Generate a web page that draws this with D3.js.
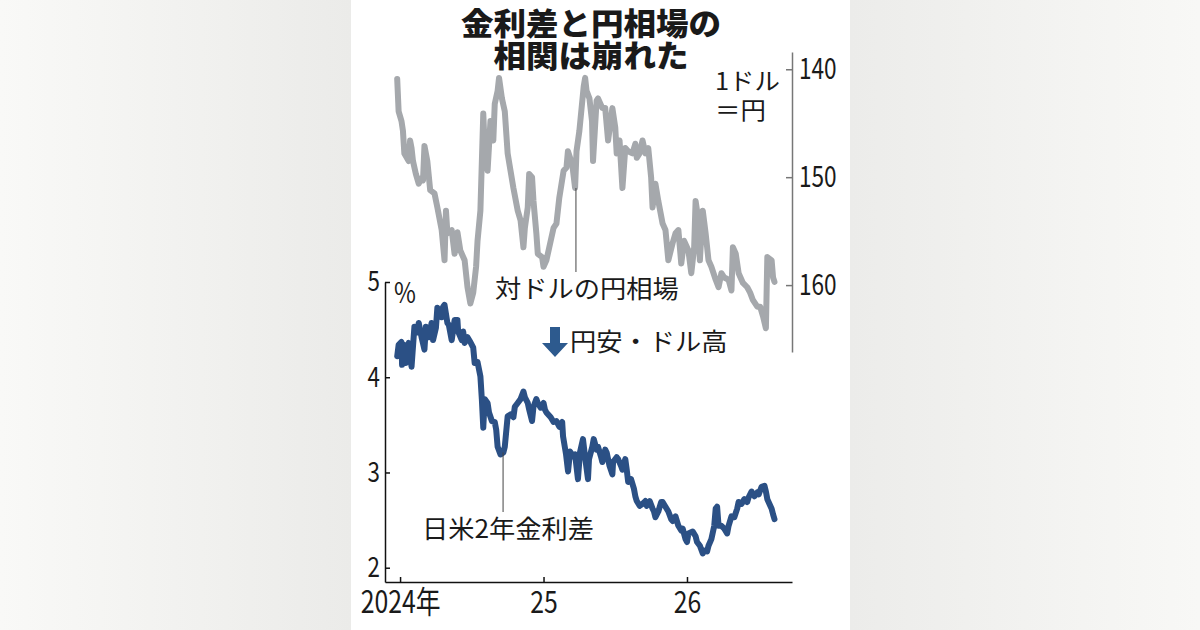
<!DOCTYPE html>
<html>
  <head>
    <meta charset="utf-8">
    <title>金利差と円相場</title>
    <script src="https://cdn.jsdelivr.net/npm/d3@7"></script>
    <style>
      body { margin: 0; }
      text { font-family: "Noto Sans CJK JP", "Noto Sans", sans-serif; fill: #1a1a1a; }
    </style>
  </head>
  <body>
    <svg width="1200" height="630" id="mainsvg"></svg>
    <script>
      // 対ドルの円相場 (1ドル=円)  [年, 値]
      const usdJpy = [
        [2023.98,140.9],[2023.99,143.9],[2024.01,144.8],[2024.02,145.7],[2024.03,147.8],[2024.06,148.5],
        [2024.07,146.6],[2024.08,147.3],[2024.09,148.5],[2024.11,149.7],[2024.13,150.6],[2024.15,150.1],
        [2024.16,150.3],[2024.17,147.1],[2024.19,148.5],[2024.21,151.2],[2024.24,151.5],[2024.26,152.8],
        [2024.29,154.9],[2024.31,157.7],[2024.32,153.1],[2024.33,155.2],[2024.36,154.9],[2024.38,157.1],
        [2024.40,155.1],[2024.42,156.8],[2024.44,157.4],[2024.45,157.7],[2024.47,160.2],[2024.49,161.7],
        [2024.51,160.7],[2024.53,158.3],[2024.54,155.9],[2024.56,153.1],[2024.58,144.1],[2024.59,147.3],
        [2024.61,149.4],[2024.63,144.8],[2024.65,146.6],[2024.66,143.2],[2024.68,142.0],[2024.69,140.8],
        [2024.71,142.7],[2024.73,143.9],[2024.75,147.8],[2024.77,149.4],[2024.79,151.0],[2024.82,153.1],
        [2024.84,154.0],[2024.86,156.5],[2024.87,154.7],[2024.89,152.8],[2024.90,149.7],[2024.92,150.0],
        [2024.93,152.2],[2024.95,155.2],[2024.96,157.1],[2024.99,157.4],[2025.00,158.3],[2025.02,157.7],
        [2025.04,156.5],[2025.07,154.7],[2025.09,154.3],[2025.11,151.9],[2025.14,149.4],[2025.16,149.1],
        [2025.17,147.6],[2025.20,148.8],[2025.22,151.0],[2025.23,147.6],[2025.25,145.7],[2025.28,141.6],
        [2025.29,140.8],[2025.30,142.0],[2025.32,142.7],[2025.338,144.8],[2025.345,148.5],[2025.37,142.9],
        [2025.38,142.7],[2025.41,143.6],[2025.43,143.6],[2025.45,146.6],[2025.48,143.6],[2025.50,145.4],
        [2025.51,147.8],[2025.53,146.6],[2025.55,151.0],[2025.57,147.3],[2025.59,147.6],[2025.62,147.8],
        [2025.64,146.9],[2025.65,148.2],[2025.67,147.8],[2025.69,146.6],[2025.71,147.8],[2025.73,147.3],
        [2025.75,150.0],[2025.76,152.8],[2025.78,150.6],[2025.80,152.2],[2025.83,154.3],[2025.85,154.9],
        [2025.87,157.7],[2025.90,156.1],[2025.92,155.2],[2025.94,154.9],[2025.96,158.0],[2025.98,155.9],
        [2026.01,156.8],[2026.03,158.9],[2026.05,156.5],[2026.06,152.2],[2026.07,153.1],[2026.09,157.7],
        [2026.11,153.1],[2026.13,155.2],[2026.15,157.7],[2026.17,158.3],[2026.20,159.5],[2026.22,160.2],
        [2026.24,158.9],[2026.26,159.3],[2026.29,159.5],[2026.31,160.5],[2026.32,156.5],[2026.34,157.1],
        [2026.36,158.9],[2026.39,159.8],[2026.42,160.2],[2026.44,160.7],[2026.46,161.4],[2026.49,162.0],
        [2026.51,162.0],[2026.53,162.9],[2026.55,164.0],[2026.56,157.4],[2026.59,157.7],[2026.60,159.3],
        [2026.61,159.7]
      ];

      // 日米2年金利差 (%)  [年, 値]
      const spread = [
        [2023.98,4.22],[2023.99,4.34],[2024.01,4.37],[2024.014,4.13],[2024.03,4.34],[2024.04,4.15],
        [2024.05,4.32],[2024.06,4.36],[2024.08,4.11],[2024.09,4.32],[2024.10,4.53],[2024.12,4.47],
        [2024.13,4.57],[2024.15,4.42],[2024.17,4.29],[2024.18,4.53],[2024.20,4.42],[2024.22,4.57],
        [2024.23,4.39],[2024.25,4.52],[2024.26,4.73],[2024.29,4.63],[2024.30,4.74],[2024.31,4.76],
        [2024.33,4.57],[2024.34,4.55],[2024.36,4.39],[2024.38,4.60],[2024.40,4.60],[2024.405,4.48],
        [2024.43,4.39],[2024.44,4.48],[2024.45,4.36],[2024.47,4.42],[2024.49,4.37],[2024.51,4.31],
        [2024.52,4.15],[2024.54,4.16],[2024.56,4.01],[2024.57,3.77],[2024.58,3.47],[2024.59,3.77],
        [2024.61,3.73],[2024.62,3.63],[2024.64,3.54],[2024.66,3.53],[2024.67,3.45],[2024.68,3.27],
        [2024.70,3.19],[2024.72,3.21],[2024.73,3.27],[2024.75,3.59],[2024.77,3.61],[2024.79,3.58],
        [2024.80,3.69],[2024.82,3.73],[2024.84,3.77],[2024.86,3.85],[2024.87,3.79],[2024.89,3.73],
        [2024.90,3.66],[2024.92,3.54],[2024.93,3.69],[2024.95,3.77],[2024.96,3.73],[2024.98,3.68],
        [2025.00,3.73],[2025.01,3.66],[2025.02,3.63],[2025.05,3.58],[2025.07,3.53],[2025.09,3.54],
        [2025.11,3.48],[2025.13,3.53],[2025.136,3.38],[2025.157,3.19],[2025.171,3.01],[2025.185,3.22],
        [2025.206,3.17],[2025.220,3.19],[2025.240,2.93],[2025.254,3.21],[2025.275,3.35],[2025.289,3.17],
        [2025.310,2.93],[2025.317,3.14],[2025.34,3.27],[2025.35,3.35],[2025.37,3.24],[2025.38,3.27],
        [2025.40,3.17],[2025.41,3.11],[2025.43,3.24],[2025.44,3.21],[2025.46,3.07],[2025.48,2.98],
        [2025.485,3.11],[2025.51,3.16],[2025.52,3.14],[2025.54,3.07],[2025.55,3.03],[2025.57,3.14],
        [2025.58,3.03],[2025.59,2.90],[2025.61,2.93],[2025.63,2.83],[2025.64,2.75],[2025.65,2.70],
        [2025.67,2.65],[2025.69,2.67],[2025.71,2.70],[2025.72,2.65],[2025.74,2.70],[2025.76,2.62],
        [2025.77,2.59],[2025.78,2.53],[2025.80,2.59],[2025.82,2.69],[2025.83,2.69],[2025.85,2.64],
        [2025.87,2.59],[2025.89,2.51],[2025.90,2.49],[2025.92,2.54],[2025.94,2.44],[2025.96,2.39],
        [2025.97,2.41],[2025.99,2.30],[2026.00,2.27],[2026.01,2.36],[2026.04,2.38],[2026.06,2.33],
        [2026.07,2.27],[2026.09,2.23],[2026.11,2.15],[2026.12,2.18],[2026.14,2.17],[2026.15,2.23],
        [2026.17,2.30],[2026.19,2.44],[2026.20,2.62],[2026.21,2.64],[2026.22,2.44],[2026.24,2.44],
        [2026.26,2.41],[2026.28,2.36],[2026.29,2.44],[2026.31,2.54],[2026.33,2.53],[2026.35,2.62],
        [2026.36,2.69],[2026.38,2.67],[2026.40,2.72],[2026.42,2.69],[2026.43,2.74],[2026.45,2.80],
        [2026.47,2.75],[2026.49,2.79],[2026.50,2.77],[2026.52,2.85],[2026.54,2.86],[2026.55,2.80],
        [2026.56,2.72],[2026.59,2.62],[2026.60,2.56],[2026.61,2.51]
      ];

      const yearTicks = [2024, 2025, 2026];
      const yearLabels = ['2024年', '25', '26'];
      const spreadTicks = [2, 3, 4, 5];
      const yenTicks = [140, 150, 160];

      const svg = d3.select('#mainsvg');
      const width = +svg.attr('width');
      const height = +svg.attr('height');

      // 背景
      const defs = svg.append('defs');
      const gl = defs.append('linearGradient').attr('id', 'bgL');
      gl.append('stop').attr('offset', '0%').attr('stop-color', '#f9f9f7');
      gl.append('stop').attr('offset', '100%').attr('stop-color', '#ebebe9');
      const gr = defs.append('linearGradient').attr('id', 'bgR');
      gr.append('stop').attr('offset', '0%').attr('stop-color', '#ececea');
      gr.append('stop').attr('offset', '100%').attr('stop-color', '#f8f8f6');
      svg.append('rect').attr('width', 351).attr('height', height).attr('fill', 'url(#bgL)');
      svg.append('rect').attr('x', 850).attr('width', width - 850).attr('height', height).attr('fill', 'url(#bgR)');
      svg.append('rect').attr('x', 351).attr('width', 499).attr('height', height).attr('fill', '#fff');

      const x = d3.scaleLinear().domain([2023.895, 2026.732]).range([385, 792]);
      const ySpread = d3.scaleLinear().domain([1.85, 5]).range([582, 282]);
      const yYen = d3.scaleLinear().domain([138.4, 166.2]).range([52, 352]);

      const label = (sel, px, py, str, o = {}) => sel.append('text')
        .attr('transform', `translate(${px},${py}) scale(${o.sx || 1},1)`)
        .attr('text-anchor', o.anchor || 'start')
        .attr('font-size', o.size || 25)
        .attr('font-weight', o.weight || 400)
        .text(str);

      // 線
      const line = d3.line().x(d => x(d[0]));
      svg.append('path').datum(usdJpy)
        .attr('fill', 'none').attr('stroke', '#a5a8ac').attr('stroke-width', 6)
        .attr('stroke-linejoin', 'round').attr('stroke-linecap', 'round')
        .attr('d', line.y(d => yYen(d[1])));
      svg.append('path').datum(spread)
        .attr('fill', 'none').attr('stroke', '#2b5085').attr('stroke-width', 6)
        .attr('stroke-linejoin', 'round').attr('stroke-linecap', 'round')
        .attr('d', line.y(d => ySpread(d[1])));

      // 左軸
      const sxY = 0.8;
      const gLeft = svg.append('g').attr('transform', 'translate(385,0)')
        .call(d3.axisLeft(ySpread).tickValues(spreadTicks).tickSize(-5).tickSizeOuter(0)
          .tickFormat(d3.format('d')));
      gLeft.selectAll('path, line').attr('stroke', '#111').attr('stroke-width', 1.5);
      gLeft.selectAll('text').attr('font-size', 28).attr('fill', '#1a1a1a')
        .attr('font-family', '"Noto Sans CJK JP", sans-serif')
        .attr('transform', `scale(${sxY},1)`).attr('x', -5 / sxY);

      // 下軸
      const sxX = 0.8;
      const gBottom = svg.append('g').attr('transform', 'translate(0,582)')
        .call(d3.axisBottom(x).tickValues(yearTicks).tickSize(-5).tickSizeOuter(0)
          .tickFormat((d, i) => yearLabels[i]));
      gBottom.selectAll('path, line').attr('stroke', '#111').attr('stroke-width', 1.5);
      gBottom.selectAll('text').attr('font-size', 31).attr('fill', '#1a1a1a')
        .attr('font-family', '"Noto Sans CJK JP", sans-serif')
        .attr('transform', `scale(${sxX},1)`).attr('y', 31).attr('dy', 0);

      // 右軸
      const sxR = 0.78;
      const gRight = svg.append('g').attr('transform', 'translate(792,0)')
        .call(d3.axisRight(yYen).tickValues(yenTicks).tickSize(-6).tickSizeOuter(0));
      gRight.selectAll('path, line').attr('stroke', '#777').attr('stroke-width', 1.5);
      gRight.selectAll('text').attr('font-size', 29).attr('fill', '#1a1a1a')
        .attr('font-family', '"Noto Sans CJK JP", sans-serif')
        .attr('transform', `scale(${sxR},1)`).attr('x', 7 / sxR);

      // 見出し
      label(svg, 591, 35, '金利差と円相場の', {anchor: 'middle', size: 31, weight: 900, sx: 1.05});
      label(svg, 591, 67, '相関は崩れた', {anchor: 'middle', size: 31, weight: 900, sx: 1.05});

      // 単位
      label(svg, 394, 303, '%', {size: 28, sx: 0.85});
      label(svg, 715, 90, '1ドル', {size: 24, sx: 1.06});
      label(svg, 715, 119, '＝円', {size: 24, sx: 1.06});

      // 注記線
      svg.append('line')
        .attr('x1', x(2025.226)).attr('x2', x(2025.226))
        .attr('y1', yYen(151.0)).attr('y2', 272)
        .attr('stroke', '#444').attr('stroke-width', 1);
      svg.append('line')
        .attr('x1', x(2024.718)).attr('x2', x(2024.718))
        .attr('y1', ySpread(3.21)).attr('y2', 512)
        .attr('stroke', '#444').attr('stroke-width', 1);

      label(svg, 495, 298, '対ドルの円相場', {size: 25, sx: 1.05});
      label(svg, 422, 538, '日米2年金利差', {size: 25, sx: 1.05});
      label(svg, 570, 351, '円安・ドル高', {size: 25, sx: 1.05});

      // 矢印
      svg.append('path')
        .attr('d', 'M550,327 H560 V343 H568 L555,357 L542,343 H550 Z')
        .attr('fill', '#2d5a8e');
    </script>
  </body>
</html>
